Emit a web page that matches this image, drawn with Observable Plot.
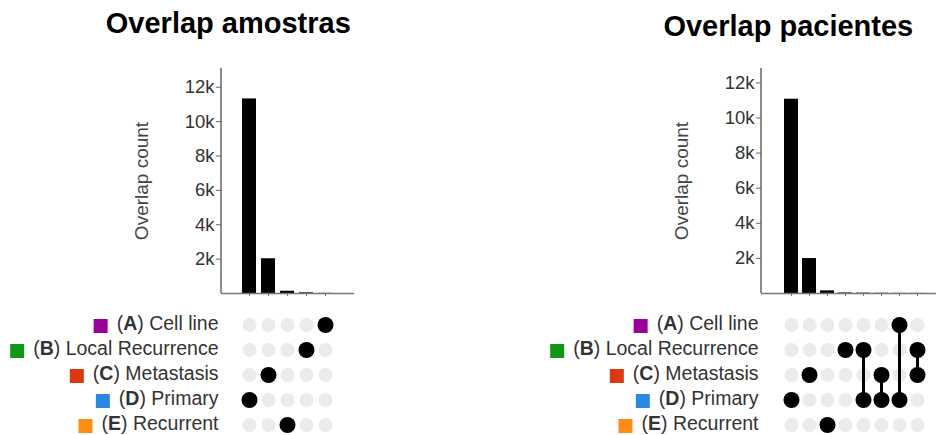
<!DOCTYPE html>
<html>
<head>
<meta charset="utf-8">
<script src="https://cdn.jsdelivr.net/npm/d3@7"></script>
<script src="https://cdn.jsdelivr.net/npm/@observablehq/plot@0.6"></script>
<style>
  body { margin: 0; background: #fff; }
  #chart { position: relative; width: 936px; height: 435px; overflow: hidden;
           font-family: "Liberation Sans", Arial, sans-serif; }
  .panel { position: absolute; top: 0; width: 540px; height: 435px; }
  .panel > svg, .panel > div { position: absolute; left: 0; }
  .title { font-weight: bold; font-size: 29px; line-height: 29px; color: #000;
           width: 400px; text-align: center; white-space: nowrap; }
</style>
</head>
<body>
<div id="chart"></div>
<script>
// Sets shown in the membership matrix
const setKeys = ["A", "B", "C", "D", "E"];
const setNames = ["Cell line", "Local Recurrence", "Metastasis", "Primary", "Recurrent"];
const setColors = ["#990099", "#109618", "#dc3912", "#2a88e2", "#ff8c14"];

// Shared y axis ticks
const yTickValues = [2000, 4000, 6000, 8000, 10000, 12000];
const yTickLabels = ["2k", "4k", "6k", "8k", "10k", "12k"];
const axisTitle = "Overlap count";

// Samples: combinations (set letters) and overlap counts
const amostrasTitle = "Overlap amostras";
const amostrasCombos = ["D", "C", "E", "B", "A"];
const amostrasCounts = [11320, 2020, 130, 40, 8];

// Patients: combinations (set letters) and overlap counts
const pacientesTitle = "Overlap pacientes";
const pacientesCombos = ["D", "C", "E", "B", "BD", "CD", "AD", "BC"];
const pacientesCounts = [11070, 1990, 150, 30, 20, 12, 8, 5];

const FONT = '"Liberation Sans", Arial, sans-serif';
const LABEL_SIZE = 19.5;
const sets = setKeys.map((key, i) => ({key, name: setNames[i], color: setColors[i]}));

// Width of "(X) Name" with a bold letter, used to place the colour swatch
const ctx = document.createElement("canvas").getContext("2d");
function labelWidth(s) {
  ctx.font = `${LABEL_SIZE}px ${FONT}`;
  let w = ctx.measureText("(").width + ctx.measureText(") " + s.name).width;
  ctx.font = `bold ${LABEL_SIZE}px ${FONT}`;
  return w + ctx.measureText(s.key).width;
}

// Vertical axis line along the left edge of the frame
const yAxisLine = (index, scales, values, dims) =>
  d3.create("svg:line")
    .attr("x1", dims.marginLeft).attr("x2", dims.marginLeft)
    .attr("y1", dims.marginTop).attr("y2", dims.height - dims.marginBottom)
    .attr("stroke", "#666").attr("stroke-width", 1.5)
    .node();

function barChart(cfg, combos, counts) {
  const data = combos.map((combo, i) => ({combo, count: counts[i]}));
  return Plot.plot({
    width: cfg.width, height: 300,
    marginTop: 68, marginBottom: 7, marginLeft: 221, marginRight: cfg.width - cfg.xEnd,
    style: {fontFamily: FONT, fontSize: "18.5px", color: "#333", background: "transparent", overflow: "visible"},
    x: {type: "band", domain: combos, paddingInner: 0.24, paddingOuter: cfg.po},
    y: {domain: [0, cfg.yMax]},
    marks: [
      Plot.barY(data, {x: "combo", y: "count", fill: "#000"}),
      Plot.ruleY([0], {stroke: "#777", strokeWidth: 1.5}),
      yAxisLine,
      Plot.axisY({ticks: yTickValues, tickFormat: d => yTickLabels[yTickValues.indexOf(d)],
                  tickSize: 5, tickPadding: 2, stroke: "#666", label: null}),
      Plot.axisX({tickSize: 3, tickFormat: () => "", stroke: "#777", label: null}),
      Plot.text([axisTitle], {text: d => d, frameAnchor: "left", dx: -80, rotate: -90,
                              textAnchor: "middle", fill: "#444", fontSize: 19})
    ]
  });
}

function matrixChart(cfg, combos) {
  const cells = combos.flatMap(combo => setKeys.map(set => ({combo, set, member: combo.includes(set)})));
  const members = cells.filter(d => d.member);
  const svg = Plot.plot({
    width: cfg.width, height: 129,
    marginTop: 0, marginBottom: 0, marginLeft: 221, marginRight: cfg.width - cfg.xEnd,
    style: {fontFamily: FONT, fontSize: LABEL_SIZE + "px", color: "#333", background: "transparent", overflow: "visible"},
    x: {type: "band", domain: combos, paddingInner: 0.24, paddingOuter: cfg.po, axis: null},
    y: {type: "band", domain: setKeys, padding: 0, axis: null},
    marks: [
      Plot.dot(cells, {x: "combo", y: "set", r: 7, fill: "#ebebeb"}),
      Plot.line(members, {x: "combo", y: "set", z: "combo", stroke: "#000", strokeWidth: 3}),
      Plot.dot(members, {x: "combo", y: "set", r: 8, fill: "#000"}),
      Plot.text(sets, {y: "key", text: d => `(${d.key}) ${d.name}`, frameAnchor: "left",
                       dx: -3, dy: -1.5, textAnchor: "end", fill: "#333", fontSize: LABEL_SIZE,
                       className: "set-label"}),
      ...sets.map(s => Plot.dot([s], {y: "key", frameAnchor: "left", dx: -3 - labelWidth(s) - 9 - 7,
                                      dy: 1, symbol: "square", r: 7.9, fill: s.color}))
    ]
  });
  // Bold set letter inside each label
  d3.select(svg).selectAll(".set-label text").each(function () {
    const m = this.textContent.match(/^\((.)\) (.*)$/);
    if (!m) return;
    const t = d3.select(this).text(null);
    t.append("tspan").text("(");
    t.append("tspan").attr("font-weight", "bold").text(m[1]);
    t.append("tspan").text(") " + m[2]);
  });
  return svg;
}

function panel(cfg, title, combos, counts) {
  const div = d3.select("#chart").append("div").attr("class", "panel").style("left", cfg.left + "px");
  const bars = barChart(cfg, combos, counts);
  bars.style.top = "0px";
  div.node().appendChild(bars);
  const matrix = matrixChart(cfg, combos);
  matrix.style.top = "310px";
  div.node().appendChild(matrix);
  div.append("div").attr("class", "title")
    .style("left", (cfg.titleX - 200) + "px").style("top", cfg.titleTop + "px")
    .text(title);
}

panel({left: 0, width: 360, xEnd: 354, po: 0.99, yMax: 13090, titleX: 228.3, titleTop: 8.5},
      amostrasTitle, amostrasCombos, amostrasCounts);
panel({left: 540, width: 420, xEnd: 407.6, po: 1.16, yMax: 12820, titleX: 248.3, titleTop: 12.2},
      pacientesTitle, pacientesCombos, pacientesCounts);
</script>
</body>
</html>
